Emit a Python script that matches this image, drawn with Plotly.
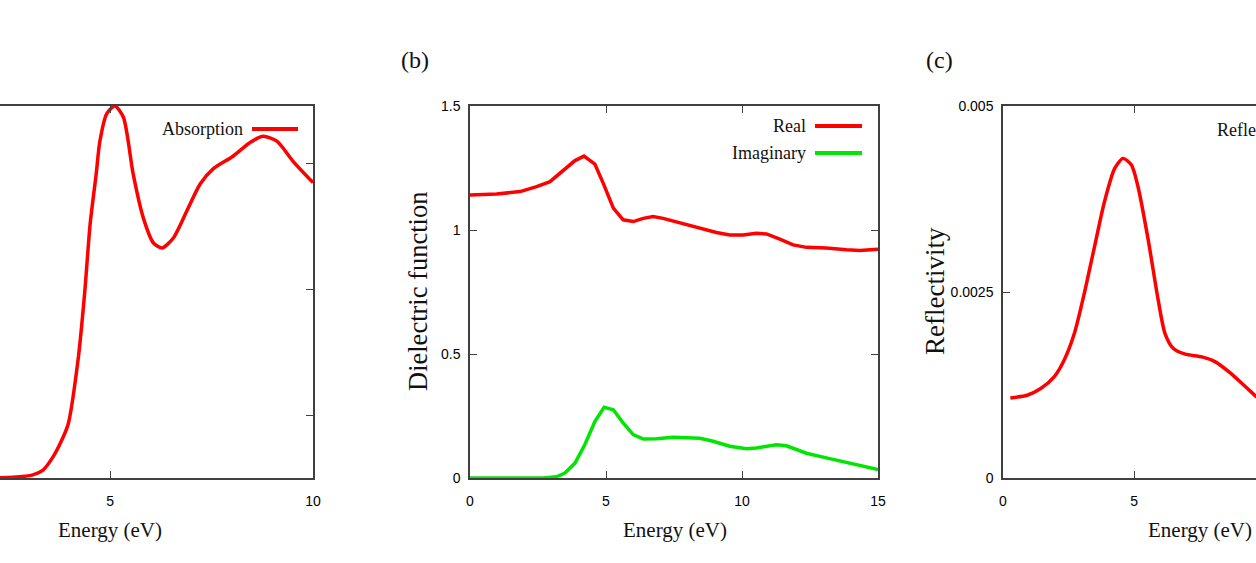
import plotly.graph_objects as go

# ---------------- data ----------------
# (a) absorption (arbitrary units)
abs_energy = [2.0, 2.6, 3.1, 3.35, 3.6, 3.81, 3.97, 4.22, 4.38, 4.51, 4.66, 4.75, 4.92, 5.12,
              5.33, 5.57, 5.82, 6.07, 6.28, 6.56, 6.9, 7.22, 7.54, 8.03, 8.45, 8.77, 9.11, 9.51, 10.0]
abs_value = [0.0, 0.005, 0.025, 0.063, 0.17, 0.30, 0.43, 0.96, 1.49, 2.02, 2.42, 2.68, 2.90, 2.96,
             2.87, 2.42, 2.07, 1.87, 1.83, 1.91, 2.13, 2.34, 2.46, 2.56, 2.67, 2.72, 2.68, 2.52, 2.35]

# (b) dielectric function
re_energy = [0.0, 0.98, 1.84, 2.45, 2.94, 3.43, 3.86, 4.19, 4.59, 4.9, 5.27, 5.63, 6.0, 6.37, 6.73,
             7.1, 7.71, 8.45, 9.06, 9.55, 10.04, 10.53, 10.9, 11.39, 11.88, 12.37, 13.1, 13.84, 14.33, 15.0]
re_value = [1.141, 1.145, 1.155, 1.175, 1.195, 1.242, 1.28, 1.298, 1.266, 1.188, 1.088, 1.041, 1.034,
            1.047, 1.054, 1.047, 1.03, 1.007, 0.99, 0.98, 0.98, 0.987, 0.984, 0.963, 0.94, 0.93,
            0.927, 0.92, 0.917, 0.922]
im_energy = [0.0, 2.69, 3.18, 3.49, 3.86, 4.22, 4.59, 4.93, 5.27, 5.63, 6.0, 6.37, 6.86, 7.47, 8.45,
             8.94, 9.55, 10.16, 10.53, 11.27, 11.63, 12.37, 13.1, 13.84, 15.0]
im_value = [0.0, 0.0, 0.005, 0.02, 0.06, 0.134, 0.228, 0.285, 0.275, 0.222, 0.175, 0.157, 0.158,
            0.164, 0.16, 0.148, 0.128, 0.118, 0.121, 0.134, 0.13, 0.1, 0.081, 0.063, 0.034]

# (c) reflectivity
ref_energy = [0.28, 0.92, 1.44, 1.95, 2.33, 2.72, 3.1, 3.49, 3.87, 4.26, 4.58, 4.9, 5.15, 5.54,
              5.92, 6.18, 6.5, 6.95, 7.59, 8.1, 8.62, 9.26, 9.74, 10.2]
ref_value = [0.001076, 0.001112, 0.001202, 0.001359, 0.001583, 0.001942, 0.00248, 0.003108,
             0.003713, 0.004161, 0.004296, 0.004206, 0.003915, 0.003197, 0.00239, 0.001942,
             0.00174, 0.001664, 0.001628, 0.001561, 0.001426, 0.001224, 0.001067, 0.00093]

# ---------------- layout helpers ----------------
W, H = 1256, 563
def px(x):
    return x / W
def py(y):
    return (H - y) / H

RED = "#ff0000"
GREEN = "#00e600"
AX = "#404040"
SERIF = "Liberation Serif, Times New Roman, serif"
SANS = "Liberation Sans, Arial, sans-serif"

fig = go.Figure()
fig.add_trace(go.Scatter(x=abs_energy, y=abs_value, mode="lines", name="Absorption",
                         line=dict(color=RED, width=3.5, shape="spline", smoothing=0.7),
                         xaxis="x", yaxis="y"))
fig.add_trace(go.Scatter(x=re_energy, y=re_value, mode="lines", name="Real",
                         line=dict(color=RED, width=3.5), xaxis="x2", yaxis="y2"))
fig.add_trace(go.Scatter(x=im_energy, y=im_value, mode="lines", name="Imaginary",
                         line=dict(color=GREEN, width=3.5), xaxis="x2", yaxis="y2"))
fig.add_trace(go.Scatter(x=ref_energy, y=ref_value, mode="lines", name="Reflectivity",
                         line=dict(color=RED, width=3.5, shape="spline", smoothing=0.7),
                         xaxis="x3", yaxis="y3"))

ydom = [py(478), py(106)]
common = dict(showline=True, linecolor=AX, linewidth=1.5, ticks="inside", ticklen=7,
              tickwidth=1.2, tickcolor=AX, showgrid=False, zeroline=False, automargin=False,
              tickfont=dict(family=SANS, size=14, color="#000"))

fig.update_layout(
    width=W, height=H, showlegend=False,
    margin=dict(l=0, r=0, t=0, b=0, pad=0, autoexpand=False),
    paper_bgcolor="white", plot_bgcolor="white",
    xaxis=dict(domain=[0, px(313)], range=[2.29, 10], tickvals=[5, 10], mirror="allticks",
               anchor="y", ticklabelstandoff=9, **common),
    yaxis=dict(domain=ydom, range=[0, 2.96], tickvals=[0.5, 1.5, 2.5], side="right",
               anchor="x", showticklabels=False, **common),
    xaxis2=dict(domain=[px(470), px(878)], range=[0, 15], dtick=5, mirror="allticks",
                anchor="y2", ticklabelstandoff=9, **common),
    yaxis2=dict(domain=ydom, range=[0, 1.5], dtick=0.5, mirror="allticks",
                anchor="x2", ticklabelstandoff=5, **common),
    xaxis3=dict(domain=[px(1003), 1.0], range=[0, 9.65], dtick=5, mirror="allticks",
                anchor="y3", ticklabelstandoff=9, **common),
    yaxis3=dict(domain=ydom, range=[0, 0.005], tickvals=[0, 0.0025, 0.005],
                ticktext=["0", "0.0025", "0.005"], anchor="x3", ticklabelstandoff=5, **common),
)

anns = []
def txt(text, x, y, size, xanchor="center", angle=0):
    anns.append(dict(text=text, x=px(x), y=py(y), xref="paper", yref="paper",
                     xanchor=xanchor, yanchor="middle", showarrow=False, textangle=angle,
                     font=dict(family=SERIF, size=size, color="#111")))

# axis titles
txt("Energy (eV)", 110, 530, 21)
txt("Energy (eV)", 675, 530, 21)
txt("Energy (eV)", 1200, 530, 21)
txt("Dielectric function", 418, 292, 26.5, angle=-90)
txt("Reflectivity", 935, 291, 27, angle=-90)
# panel labels
txt("(b)", 415, 60, 24)
txt("(c)", 940, 60, 24)
# legend entries
txt("Absorption", 245, 129, 18, xanchor="right")
txt("Real", 808, 126, 18, xanchor="right")
txt("Imaginary", 808, 153, 18, xanchor="right")
txt("Reflectivity", 1215, 130, 18, xanchor="left")
fig.update_layout(annotations=anns)

shapes = []
for (x0, x1, y, c) in [(252, 298, 129, RED), (815, 862, 126, RED), (815, 862, 153, GREEN)]:
    shapes.append(dict(type="line", xref="paper", yref="paper", x0=px(x0), x1=px(x1),
                       y0=py(y), y1=py(y), line=dict(color=c, width=4)))
fig.update_layout(shapes=shapes)

# remove the browser's default page margin so the figure sits at the window's corner
fig.write_html("out.html", config={"displayModeBar": False},
               post_script="document.body.style.margin='0px';document.body.style.overflow='hidden';")
